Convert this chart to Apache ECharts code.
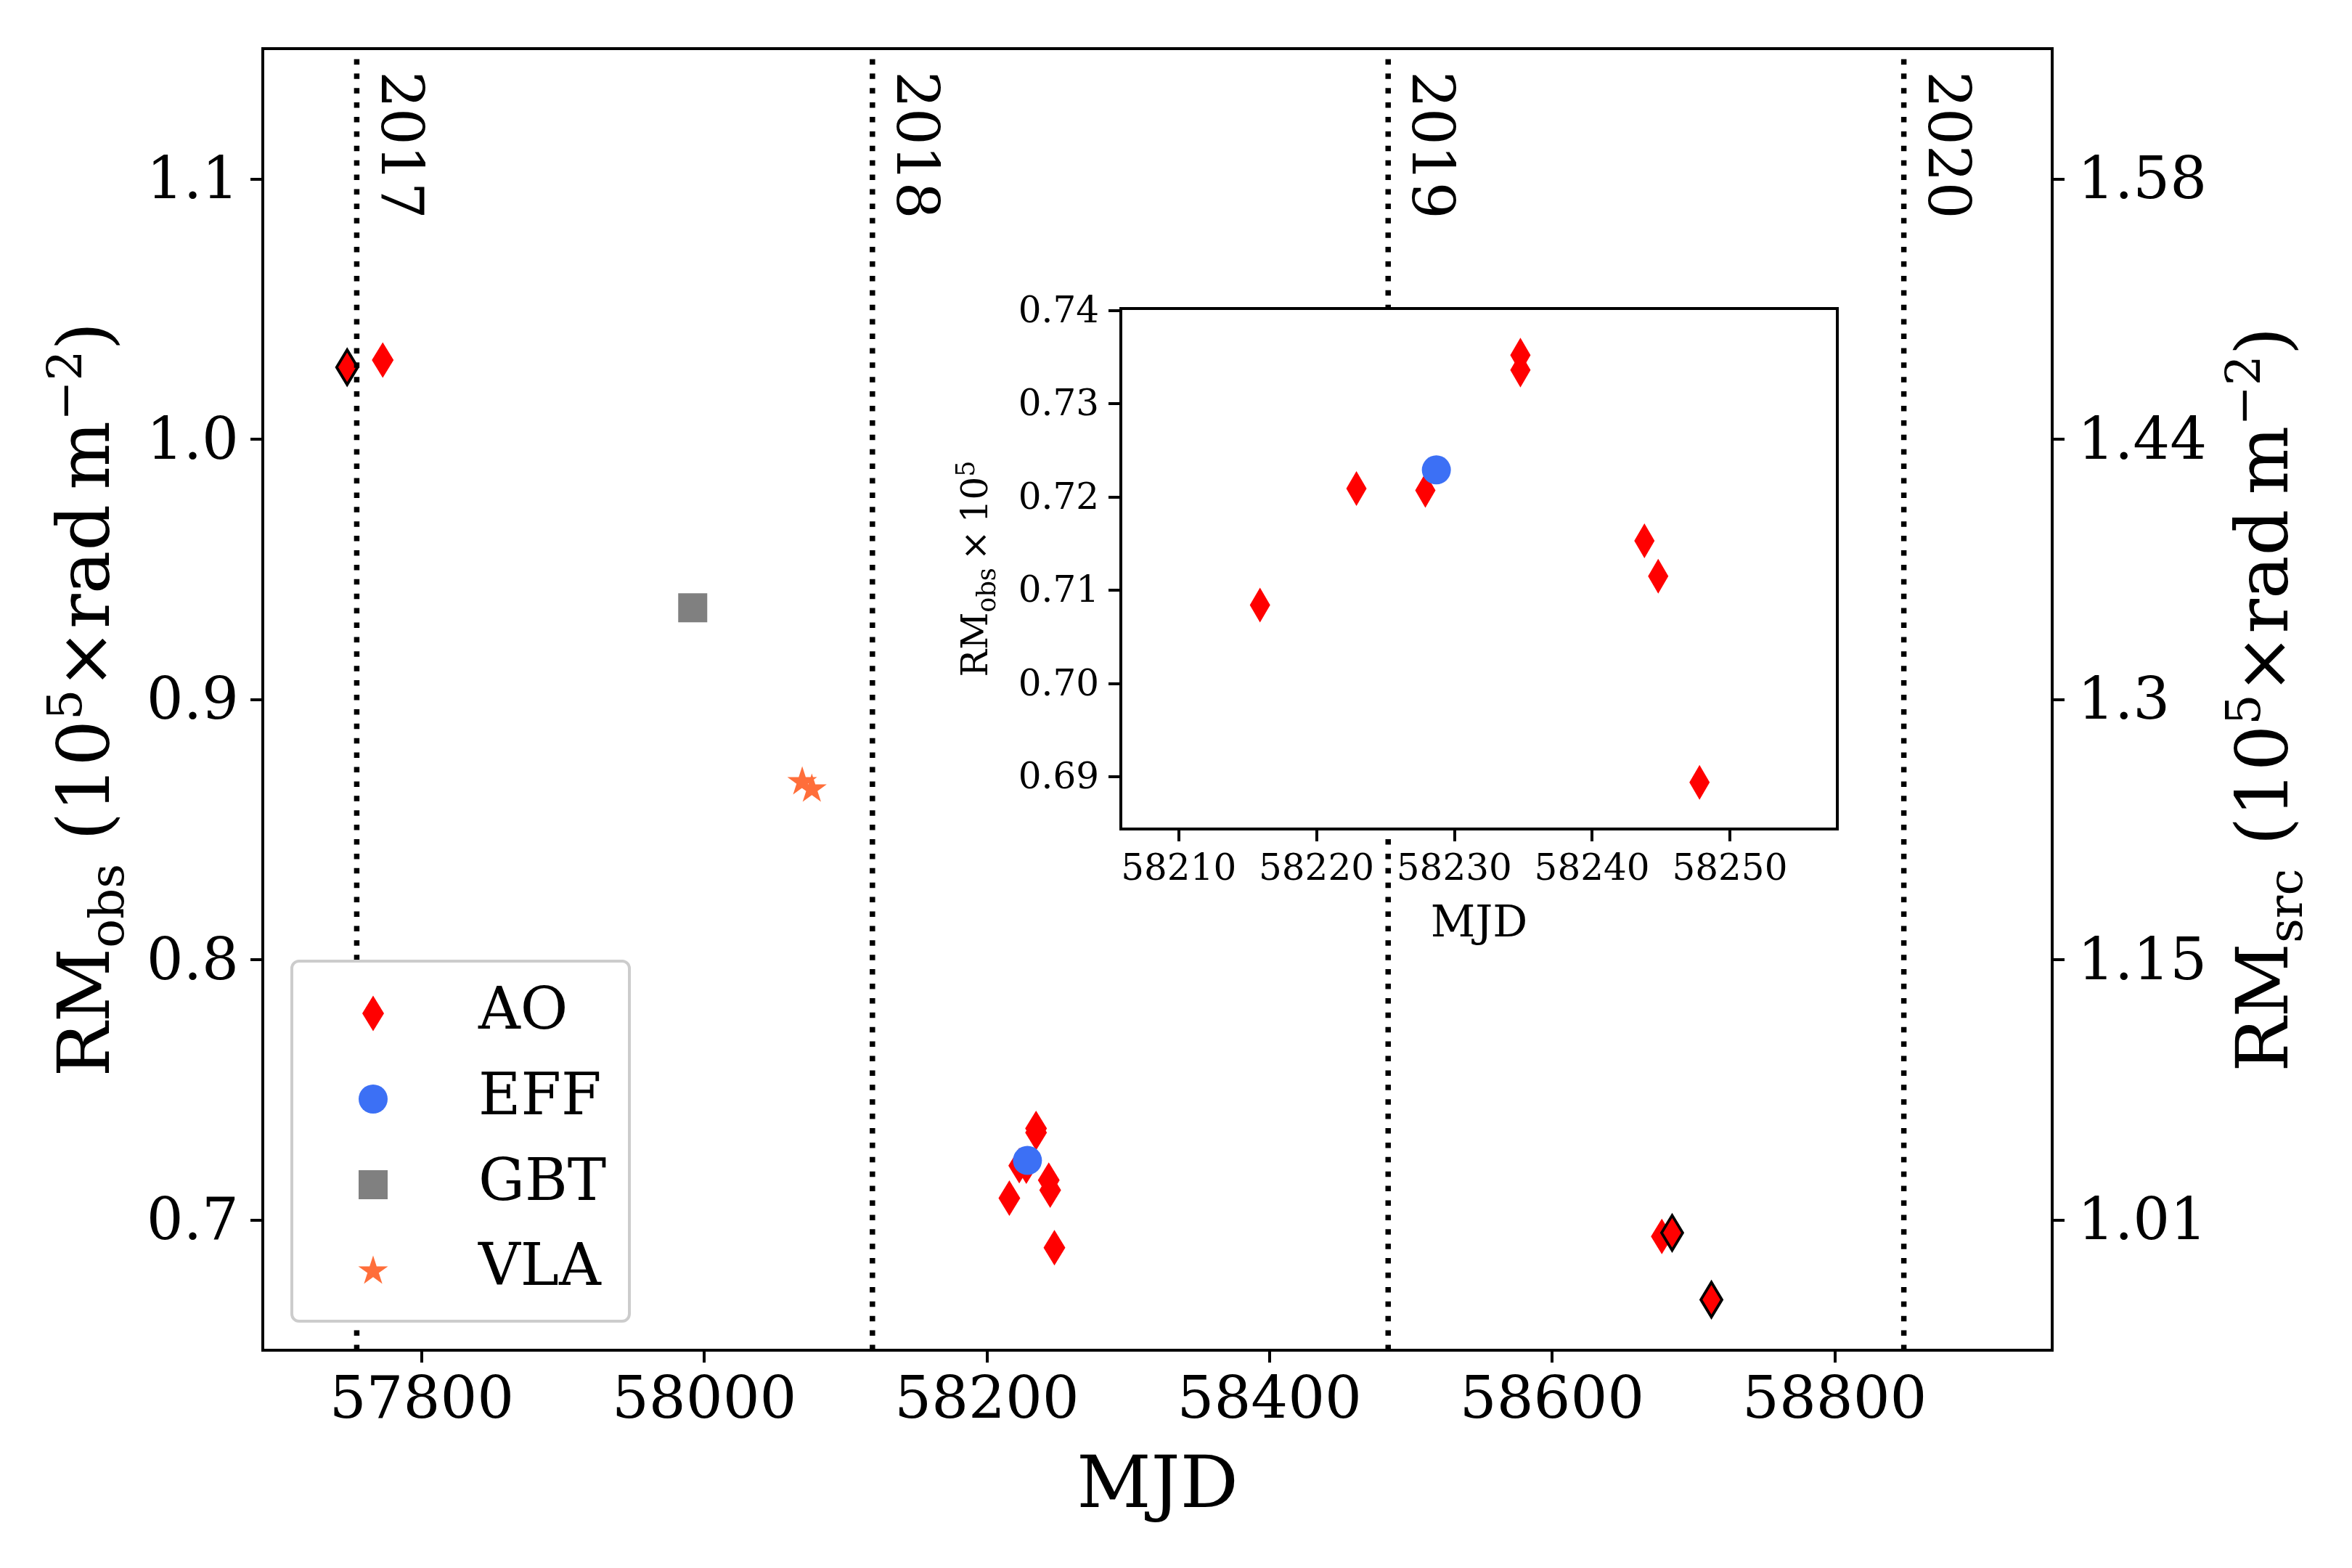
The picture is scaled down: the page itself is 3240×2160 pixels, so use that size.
<!DOCTYPE html>
<html>
<head>
<meta charset="utf-8">
<script src="https://cdn.jsdelivr.net/npm/echarts@6/dist/echarts.min.js"></script>
<style>
html,body{margin:0;padding:0;background:#fff;}
#chart{width:3240px;height:2160px;}
</style>
</head>
<body>
<div id="chart"></div>
<script>
// ---------------- data ----------------
const aoMJD  = [57772.4, 58215.9, 58222.9, 58227.9, 58234.8, 58234.8, 58243.8, 58244.8, 58247.8, 58677.7];
const aoRM   = [1.0304, 0.7084, 0.7209, 0.7207, 0.7352, 0.7336, 0.7153, 0.7115, 0.6894, 0.6937];
const aoEdgeMJD = [57747.2, 58685.0, 58712.8];
const aoEdgeRM  = [1.0276, 0.6951, 0.6694];
const effMJD = [58228.7];
const effRM  = [0.7229];
const gbtMJD = [57991.8];
const gbtRM  = [0.9352];
const vlaMJD = [58069.3, 58076.1];
const vlaRM  = [0.8689, 0.8661];

const yearMJD    = [57754, 58119, 58484, 58849];
const yearLabels = ['2017', '2018', '2019', '2020'];

const xTicks      = [57800, 58000, 58200, 58400, 58600, 58800];
const yTicks      = [0.7, 0.8, 0.9, 1.0, 1.1];
const ySrcLabels  = ['1.01', '1.15', '1.3', '1.44', '1.58'];
const insetXTicks = [58210, 58220, 58230, 58240, 58250];
const insetYTicks = [0.69, 0.70, 0.71, 0.72, 0.73, 0.74];

const legendNames = ['AO', 'EFF', 'GBT', 'VLA'];

// ---------------- helpers ----------------
const FONT = 'DejaVu Serif';
function pairs(xs, ys){ return xs.map((x,i)=>[x, ys[i]]); }
function starPath(){
  let d = '';
  for (let k = 0; k < 10; k++) {
    const r = (k % 2 === 0) ? 1 : 0.381966;
    const a = Math.PI/2 + k*Math.PI/5;
    const x = (r*Math.cos(a)).toFixed(4), y = (-r*Math.sin(a)).toFixed(4);
    d += (k === 0 ? 'M' : 'L') + x + ' ' + y + ' ';
  }
  return 'path://' + d + 'Z';
}
const STAR = starPath();

const C_AO = '#ff0000', C_EFF = '#3c70f5', C_GBT = '#808080', C_VLA = '#ff6e3a';
const AO_SIZE = [30, 49];
const AO_EDGE_SIZE = [29, 48];
const STAR_SIZE = [41, 39];

const richMain = {
  sub: {fontFamily: FONT, fontSize: 66, lineHeight: 66, verticalAlign: 'bottom', color: '#000'},
  sup: {fontFamily: FONT, fontSize: 66, lineHeight: 66, verticalAlign: 'top', color: '#000'}
};
const richInset = {
  sub: {fontFamily: FONT, fontSize: 35, lineHeight: 35, verticalAlign: 'bottom', color: '#000'},
  sup: {fontFamily: FONT, fontSize: 35, lineHeight: 35, verticalAlign: 'top', color: '#000'}
};
const richTickMain  = {t: {fontFamily: FONT, fontSize: 80, color: '#000', padding: [12, 0, 0, 0]}};
const richTickInset = {t: {fontFamily: FONT, fontSize: 50, color: '#000', padding: [6, 0, 0, 0]}};

const MAIN = {left: 362, top: 67, width: 2465, height: 1793};
const INSET = {left: 1544, top: 425, width: 987, height: 717};

const axisBase = {
  axisLine: {show: true, lineStyle: {color: '#000', width: 4}},
  axisTick: {show: true, inside: false, length: 17, lineStyle: {color: '#000', width: 4}},
  splitLine: {show: false},
};

// year lines as series
const yearSeries = yearMJD.map((m, i) => ({
  type: 'line', name: 'year' + yearLabels[i], xAxisIndex: 0, yAxisIndex: 0,
  data: [[m, 0.65], [m, 1.15]], showSymbol: false, silent: true, z: 3,
  lineStyle: {color: '#000', width: 7.5, type: [7.5, 12.4], cap: 'butt'},
  animation: false
}));

const legendIcon = {AO: AO_SIZE, EFF: [40, 40], GBT: [40, 40], VLA: STAR_SIZE};
const legendRowY = [1396, 1514, 1632, 1749];
const legendIconX = 514, legendTextX = 659;
const legends = legendNames.map((n, i) => {
  const [w, h] = legendIcon[n];
  return {
    show: true, data: [n], orient: 'vertical', selectedMode: false,
    left: legendIconX - w/2, top: legendRowY[i] - 40,
    itemWidth: w, itemHeight: h, itemGap: 0, padding: 0, z: 9,
    textStyle: {fontFamily: FONT, fontSize: 80, lineHeight: 80, color: '#000',
                padding: [0, 0, 0, legendTextX - (legendIconX + w/2) - 5]}
  };
});

const option = {
  animation: false,
  backgroundColor: '#fff',
  legend: legends,
  grid: [
    Object.assign({show: true, borderColor: '#000', borderWidth: 4, backgroundColor: 'transparent', z: 0}, MAIN),
    Object.assign({show: true, borderColor: '#000', borderWidth: 4, backgroundColor: '#fff', z: 5}, INSET)
  ],
  xAxis: [
    Object.assign({}, axisBase, {
      type: 'value', gridIndex: 0, min: 57687.5, max: 58954, position: 'bottom',
      name: 'MJD', nameLocation: 'middle', nameGap: 140,
      nameTextStyle: {fontFamily: FONT, fontSize: 100, color: '#000'},
      axisLabel: {fontFamily: FONT, fontSize: 80, color: '#000', margin: 32, customValues: xTicks,
                  formatter: v => String(v)},
      axisTick: Object.assign({}, axisBase.axisTick, {customValues: xTicks})
    }),
    Object.assign({}, axisBase, {
      type: 'value', gridIndex: 1, min: 58205.8, max: 58257.8, position: 'bottom', z: 6,
      name: 'MJD', nameLocation: 'middle', nameGap: 102,
      nameTextStyle: {fontFamily: FONT, fontSize: 60, color: '#000'},
      axisLabel: {fontFamily: FONT, fontSize: 50, color: '#000', margin: 32, customValues: insetXTicks,
                  formatter: v => String(v)},
      axisTick: Object.assign({}, axisBase.axisTick, {customValues: insetXTicks})
    })
  ],
  yAxis: [
    Object.assign({}, axisBase, {
      type: 'value', gridIndex: 0, min: 0.65, max: 1.15, position: 'left',
      name: 'RM{sub|obs} (10{sup|5}×rad\u2009m{sup|−2})',
      nameLocation: 'middle', nameRotate: 90, nameGap: 176,
      nameTextStyle: {fontFamily: FONT, fontSize: 100, lineHeight: 124, color: '#000', rich: richMain},
      axisLabel: {fontFamily: FONT, fontSize: 80, color: '#000', margin: 33, customValues: yTicks,
                  rich: richTickMain, formatter: v => '{t|' + v.toFixed(1) + '}'},
      axisTick: Object.assign({}, axisBase.axisTick, {customValues: yTicks})
    }),
    Object.assign({}, axisBase, {
      type: 'value', gridIndex: 0, min: 0.65, max: 1.15, position: 'right',
      name: 'RM{sub|src} (10{sup|5}×rad\u2009m{sup|−2})',
      nameLocation: 'middle', nameRotate: 90, nameGap: 236,
      nameTextStyle: {fontFamily: FONT, fontSize: 100, lineHeight: 124, color: '#000', rich: richMain},
      axisLabel: {fontFamily: FONT, fontSize: 80, color: '#000', margin: 35, customValues: yTicks,
                  rich: richTickMain,
                  formatter: v => { const i = yTicks.findIndex(t => Math.abs(t - v) < 1e-6); return i >= 0 ? '{t|' + ySrcLabels[i] + '}' : ''; }},
      axisTick: Object.assign({}, axisBase.axisTick, {customValues: yTicks})
    }),
    Object.assign({}, axisBase, {
      type: 'value', gridIndex: 1, min: 0.6844, max: 0.7402, position: 'left', z: 6,
      name: 'RM{sub|obs}\u2009×\u200910{sup|5}',
      nameLocation: 'middle', nameRotate: 90, nameGap: 165,
      nameTextStyle: {fontFamily: FONT, fontSize: 50, lineHeight: 64, color: '#000', rich: richInset},
      axisLabel: {fontFamily: FONT, fontSize: 50, color: '#000', margin: 30, customValues: insetYTicks,
                  rich: richTickInset, formatter: v => '{t|' + v.toFixed(2) + '}'},
      axisTick: Object.assign({}, axisBase.axisTick, {customValues: insetYTicks})
    })
  ],
  series: [
    ...yearSeries,
    {type: 'scatter', name: 'AO', xAxisIndex: 0, yAxisIndex: 0, z: 2, data: pairs(aoMJD, aoRM),
     symbol: 'diamond', symbolSize: AO_SIZE, itemStyle: {color: C_AO, opacity: 1}},
    {type: 'scatter', name: 'AO edge', xAxisIndex: 0, yAxisIndex: 0, z: 2, data: pairs(aoEdgeMJD, aoEdgeRM),
     symbol: 'diamond', symbolSize: AO_EDGE_SIZE, itemStyle: {color: C_AO, borderColor: '#000', borderWidth: 4, opacity: 1}},
    {type: 'scatter', name: 'EFF', xAxisIndex: 0, yAxisIndex: 0, z: 2, data: pairs(effMJD, effRM),
     symbol: 'circle', symbolSize: 40, itemStyle: {color: C_EFF, opacity: 1}},
    {type: 'scatter', name: 'GBT', xAxisIndex: 0, yAxisIndex: 0, z: 2, data: pairs(gbtMJD, gbtRM),
     symbol: 'rect', symbolSize: 40, itemStyle: {color: C_GBT, opacity: 1}},
    {type: 'scatter', name: 'VLA', xAxisIndex: 0, yAxisIndex: 0, z: 2, data: pairs(vlaMJD, vlaRM),
     symbol: STAR, symbolSize: STAR_SIZE, itemStyle: {color: C_VLA, opacity: 1}},
    // inset
    {type: 'scatter', name: 'AO inset', xAxisIndex: 1, yAxisIndex: 2, z: 7, clip: true, data: pairs(aoMJD, aoRM),
     symbol: 'diamond', symbolSize: [28, 48], itemStyle: {color: C_AO, opacity: 1}},
    {type: 'scatter', name: 'EFF inset', xAxisIndex: 1, yAxisIndex: 2, z: 7, clip: true, data: pairs(effMJD, effRM),
     symbol: 'circle', symbolSize: 40, itemStyle: {color: C_EFF, opacity: 1}}
  ]
};

const chart = echarts.init(document.getElementById('chart'), null, {renderer: 'canvas', width: 3240, height: 2160});
chart.setOption(option);

// year texts and legend frame
const yearTexts = yearMJD.map((m, i) => {
  const px = chart.convertToPixel({xAxisIndex: 0}, m);
  return {type: 'text', x: px + 55, y: 98, rotation: -Math.PI/2, z: 4, silent: true,
          style: {text: yearLabels[i], font: '80px "DejaVu Serif"', fill: '#000', align: 'left', verticalAlign: 'middle'}};
});
chart.setOption({
  graphic: [
    ...yearTexts,
    {type: 'rect', z: 8, silent: true, shape: {x: 402, y: 1324, width: 465, height: 496, r: 10},
     style: {fill: '#fff', stroke: '#cccccc', lineWidth: 4}}
  ]
});
</script>
</body>
</html>
